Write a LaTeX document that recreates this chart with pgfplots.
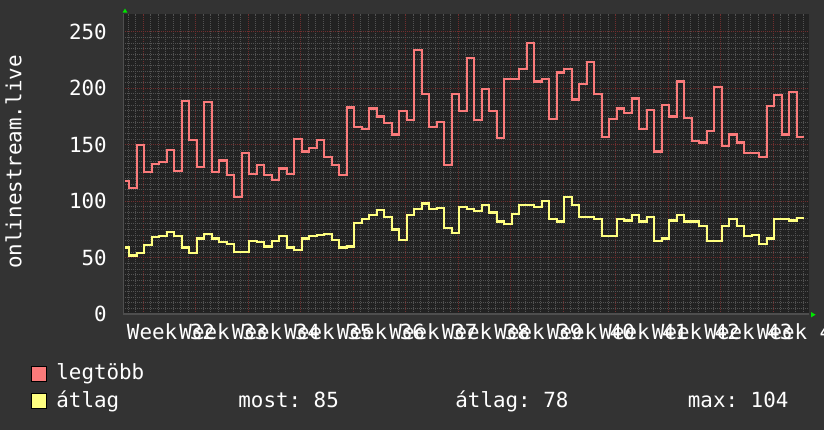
\documentclass[border=0pt]{standalone}
\usepackage{pgfplots}
\usepackage{pgfplotstable}
\usepackage{fontspec}
\pgfplotsset{compat=1.18}
\newfontfamily\mono{DejaVu Sans Mono}
\newcommand\f{\mono\fontsize{10.43pt}{12pt}\selectfont}
\frenchspacing

\definecolor{bg}{RGB}{51,51,51}
\definecolor{canvas}{RGB}{34,34,34}
\definecolor{gridgray}{RGB}{82,82,82}
\definecolor{majgrid}{RGB}{112,46,46}
\definecolor{maxc}{RGB}{250,122,122}
\definecolor{avgc}{RGB}{255,255,128}
\definecolor{axisc}{RGB}{78,78,78}
\definecolor{arrowc}{RGB}{0,230,0}

% one row per day: start of the day, legtöbb, átlag
\pgfplotstableread{
x hi avg
-0.55 118 59
0 112 52
1 150 54
2 126 61
3 133 68
4 135 69
5 145 73
6 127 69
7 189 59
8 154 54
9 130 67
10 188 71
11 126 67
12 136 64
13 123 62
14 104 55
15 143 55
16 124 65
17 132 64
18 123 60
19 119 65
20 129 69
21 124 59
22 155 57
23 144 67
24 147 69
25 154 70
26 139 71
27 132 66
28 123 59
29 183 60
30 166 81
31 164 84
32 182 88
33 175 92
34 169 86
35 159 75
36 180 66
37 172 88
38 234 93
39 195 98
40 166 93
41 170 94
42 132 76
43 195 72
44 180 95
45 227 93
46 172 91
47 199 97
48 180 90
49 156 82
50 208 80
51 208 89
52 217 97
53 240 97
54 206 95
55 208 100
56 173 84
57 214 82
58 217 104
59 190 97
60 204 86
61 223 86
62 195 84
63 157 69
64 173 69
65 182 84
66 178 83
67 191 88
68 164 82
69 181 86
70 144 65
71 185 67
72 175 83
73 206 88
74 174 82
75 153 82
76 152 78
77 162 65
78 201 65
79 149 78
80 159 84
81 152 78
82 143 69
83 143 70
84 139 62
85 184 67
86 194 84
87 159 84
88 197 83
89 157 85
90 157 85
}\data

\begin{document}
\begin{tikzpicture}
\fill[bg] (0,0) rectangle (412pt,-215pt);

\begin{axis}[
    at={(61.65pt,-157.1pt)}, anchor=south west,
    scale only axis,
    width=343pt, height=150.1pt,
    xmin=-0.8, xmax=90.67,
    ymin=0, ymax=265.7,
    axis background/.style={fill=canvas},
    axis x line*=bottom, axis y line*=left,
    axis line style={draw=axisc, line width=0.75pt},
    xtick={1.89,8.89,...,85.89},
    xticklabels={},
    minor xtick={-0.11,0.89,...,90.5},
    ytick={0,50,...,250},
    yticklabels={0,50,100,150,200,250},
    minor y tick num=9,
    major tick length=0pt, minor tick length=0pt,
    grid=both,
    minor grid style={draw=gridgray, line width=0.5pt, dash pattern=on 0.5pt off 0.5pt},
    major grid style={draw=majgrid, line width=0.5pt, dash pattern=on 0.5pt off 0.5pt},
    yticklabel style={font=\f, text=white, anchor=east, inner sep=0pt, xshift=-8.1pt},
    extra x ticks={5.55,12.55,...,89.55},
    extra x tick labels={Week 32,Week 33,Week 34,Week 35,Week 36,Week 37,Week 38,Week 39,Week 40,Week 41,Week 42,Week 43,Week 44},
    extra x tick style={grid=none, major tick length=0pt,
        xticklabel style={font=\f, text=white, anchor=base, inner sep=0pt, yshift=-12.4pt}},
]
\addplot[const plot, draw=maxc, line width=1.1pt] table[x=x, y=hi] {\data};
\addplot[const plot, draw=avgc, line width=1.1pt] table[x=x, y=avg] {\data};
\end{axis}

\begin{scope}[x=0.5pt, y=-0.5pt]
  % axis arrows
  \fill[arrowc] (122.5,12.7) -- (127.5,12.7) -- (125,8.5) -- cycle;
  \fill[arrowc] (811,312) -- (811,317.4) -- (815.6,314.7) -- cycle;
  % y label
  \node[rotate=90, text=white, font=\f, inner sep=0pt] at (13.5,162) {onlinestream.live};
  % legend
  \draw[black, line width=0.5pt, fill=maxc] (31.5,366) rectangle (46.5,381);
  \draw[black, line width=0.5pt, fill=avgc] (31.5,393.5) rectangle (46.5,408.5);
  \node[anchor=base west, inner sep=0pt, text=white, font=\f] at (56,379.5) {legtöbb};
  \node[anchor=base west, inner sep=0pt, text=white, font=\f] at (56,407) {átlag};
  \node[anchor=base west, inner sep=0pt, text=white, font=\f] at (238,407) {most: 85};
  \node[anchor=base west, inner sep=0pt, text=white, font=\f] at (455,407) {átlag: 78};
  \node[anchor=base west, inner sep=0pt, text=white, font=\f] at (687.5,407) {max: 104};
\end{scope}

\pgfresetboundingbox
\path[use as bounding box] (0,0) rectangle (412pt,-215pt);
\end{tikzpicture}
\end{document}
